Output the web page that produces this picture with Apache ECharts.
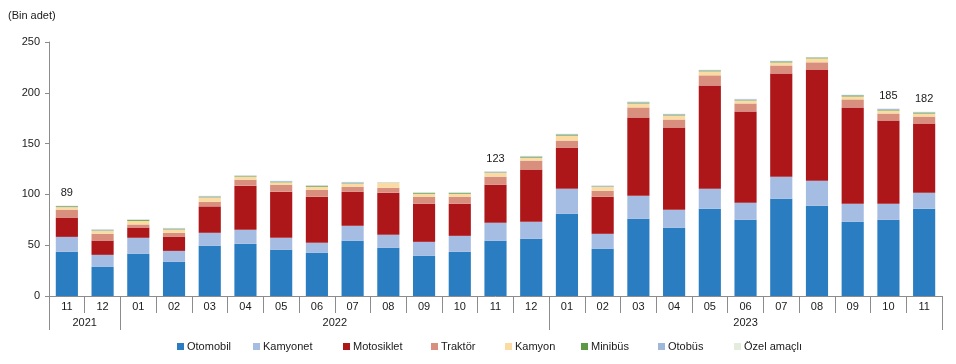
<!DOCTYPE html>
<html>
<head>
<meta charset="utf-8">
<script src="https://cdn.jsdelivr.net/npm/echarts@6/dist/echarts.min.js"></script>
<style>
html,body{margin:0;padding:0;background:#fff;}
#chart{width:956px;height:364px;}
</style>
</head>
<body>
<div id="chart"></div>
<script>
// ---- data ----
const months = ['11','12','01','02','03','04','05','06','07','08','09','10','11','12','01','02','03','04','05','06','07','08','09','10','11'];
const years = ['2021','2022','2023'];
const yearSpans = [2, 12, 11];
const seriesNames = ['Otomobil','Kamyonet','Motosiklet','Traktör','Kamyon','Minibüs','Otobüs','Özel amaçlı'];
const otomobil   = [43.4,28.6,41.5,33.6,49.4,51.3,45.4,42.4,54.3,47.4,39.5,43.4,54.3,56.3,80.9,46.4,76.0,67.1,85.9,75.0,95.7,88.8,73.0,75.0,85.9];
const kamyonet   = [14.8,11.9,15.8,10.8,12.8,13.8,11.9,9.9,14.8,12.8,13.8,15.8,17.8,16.8,24.7,14.8,22.7,17.8,19.7,16.8,21.7,24.7,17.8,15.8,15.8];
const motosiklet = [19.0,14.1,10.1,14.1,26.0,43.5,45.4,45.4,33.6,41.5,37.5,31.6,37.5,51.3,40.5,36.5,77.0,80.9,101.7,89.8,101.6,109.5,94.8,81.9,68.0];
const traktor    = [7.8,6.6,3.0,3.7,4.6,5.9,6.9,6.9,4.9,4.9,6.9,6.9,7.9,8.9,6.9,5.9,9.9,7.9,9.9,7.9,7.9,7.0,7.9,6.9,6.9];
const kamyon     = [2.5,3.0,3.6,3.3,4.3,3.0,2.3,3.0,3.0,4.6,3.0,3.0,3.7,2.9,4.9,3.7,3.9,4.0,3.9,2.9,3.0,3.9,2.9,3.0,3.0];
const minibus    = [0.8,0.4,0.8,0.4,0.4,0.5,0.4,0.8,0.4,0.2,0.8,0.8,0.4,0.8,0.9,0.4,0.8,0.6,0.8,0.4,0.9,0.8,1.0,0.6,0.9];
const otobus     = [0.4,0.9,0.4,0.8,0.8,0.6,0.8,0.4,1.0,0.3,0.3,0.3,0.9,0.6,0.6,0.9,0.8,0.8,0.5,0.9,0.5,0.3,0.5,1.0,0.5];
const ozel       = [0.3,0.4,0.4,0.4,0.4,0.4,0.4,0.3,0.4,0.4,0.3,0.3,0.5,0.4,0.4,0.4,0.4,0.4,0.4,0.4,0.4,0.3,0.3,0.5,0.4];
const totalLabels = ['89','','','','','','','','','','','','123','','','','','','','','','','','185','182'];
const yTicks = [0, 50, 100, 150, 200, 250];

// ---- build ----
const colors = ['#2a7dc0','#a5bde2','#ae1719','#d98f7e','#fbdba2','#5d9945','#9db8d8','#e4ecdd'];
const legendLefts = [172, 248, 338, 426, 500, 576, 653, 729];
const values = [otomobil, kamyonet, motosiklet, traktor, kamyon, minibus, otobus, ozel];
const boundaries = [0];
yearSpans.forEach(s => boundaries.push(boundaries[boundaries.length-1] + s));
const yearCenters = yearSpans.map((s, i) => boundaries[i] + s / 2);
const font = 'Liberation Sans, Arial, sans-serif';

const series = seriesNames.map((name, i) => ({
  name: name,
  type: 'bar',
  stack: 'total',
  xAxisIndex: 0,
  data: values[i],
  barWidth: '62%',
  itemStyle: { color: colors[i] },
  label: i === seriesNames.length - 1 ? {
    show: true,
    position: 'top',
    distance: 7,
    color: '#1a1a1a',
    fontSize: 11,
    fontFamily: font,
    formatter: p => totalLabels[p.dataIndex]
  } : { show: false }
}));

const legends = seriesNames.map((name, i) => ({
  left: legendLefts[i], top: 336,
  icon: 'rect', itemWidth: 7, itemHeight: 7, itemGap: 0,
  data: [name],
  textStyle: { fontSize: 11, color: '#1a1a1a', fontFamily: font, padding: [0,0,0,-2] }
}));

const chart = echarts.init(document.getElementById('chart'));
chart.setOption({
  animation: false,
  color: colors,
  title: {
    text: '(Bin adet)',
    left: 3, top: 5,
    textStyle: { fontSize: 11, fontWeight: 'normal', color: '#1a1a1a', fontFamily: font }
  },
  grid: { left: 49, right: 14, top: 42, bottom: 68, containLabel: false, outerBoundsMode: 'none' },
  legend: legends,
  xAxis: [
    {
      type: 'category',
      data: months,
      position: 'bottom',
      axisLine: { show: true, lineStyle: { color: '#8c8c8c', width: 1 } },
      axisTick: { show: true, interval: 0, length: 17, lineStyle: { color: '#8c8c8c' } },
      axisLabel: { interval: 0, margin: 5, fontSize: 11, color: '#1a1a1a', fontFamily: font }
    },
    {
      type: 'value',
      min: 0, max: months.length,
      position: 'bottom',
      axisLine: { show: false },
      splitLine: { show: false },
      axisTick: { show: true, length: 34, customValues: boundaries, lineStyle: { color: '#8c8c8c' } },
      axisLabel: {
        show: true, margin: 21, fontSize: 11, color: '#1a1a1a', fontFamily: font,
        customValues: yearCenters,
        formatter: v => { const k = yearCenters.indexOf(v); return k >= 0 ? years[k] : ''; }
      }
    }
  ],
  yAxis: {
    type: 'value',
    min: 0, max: 250, interval: 50,
    axisLine: { show: true, lineStyle: { color: '#8c8c8c' } },
    axisTick: { show: true, length: 4, lineStyle: { color: '#8c8c8c' } },
    splitLine: { show: false },
    axisLabel: { margin: 9, fontSize: 11, color: '#1a1a1a', fontFamily: font,
      customValues: yTicks }
  },
  series: series
});
</script>
</body>
</html>
